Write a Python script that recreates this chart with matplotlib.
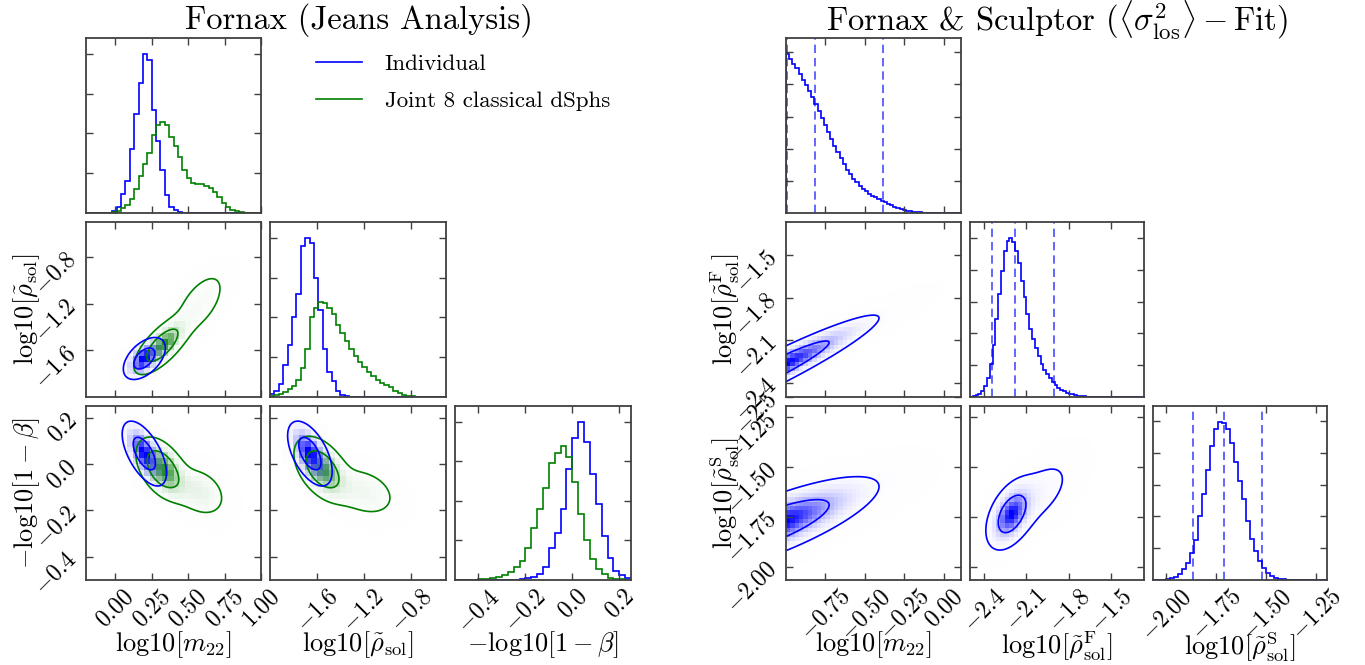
import numpy as np
import matplotlib
matplotlib.use('Agg')
import matplotlib.pyplot as plt
from matplotlib.colors import LinearSegmentedColormap
from matplotlib.lines import Line2D
from matplotlib.ticker import FixedLocator, FixedFormatter, MaxNLocator, NullFormatter

plt.rcParams['mathtext.fontset'] = 'cm'
plt.rcParams['font.family'] = 'serif'
plt.rcParams['font.serif'] = ['DejaVu Serif']

# ----------------------------------------------------------------------
#  Data
# ----------------------------------------------------------------------
ind_color = (0.0, 0.0, 1.0)
joint_color = (0.0, 0.5, 0.0)

# --- left: Fornax Jeans analysis ---
m22_range = (-0.2, 1.0)
rho_range = (-2.0, -0.5)
beta_range = (-0.5, 0.25)

m22_hist_ind = [0, 0, 0, 0, 0, 0, 0.01, 0.04, 0.12, 0.2, 0.4, 0.62, 0.82, 1.0, 0.96, 0.65,
                0.45, 0.27, 0.11, 0.04, 0.02, 0.008, 0.003, 0, 0, 0, 0, 0, 0, 0,
                0, 0, 0, 0, 0, 0, 0, 0, 0, 0]
m22_hist_joint = [0, 0, 0, 0, 0, 0, 0.005, 0.015, 0.03, 0.05, 0.09, 0.15, 0.23, 0.31, 0.38, 0.49,
                  0.55, 0.574, 0.55, 0.48, 0.42, 0.35, 0.27, 0.22, 0.19, 0.18, 0.18, 0.17, 0.16, 0.13,
                  0.10, 0.06, 0.035, 0.02, 0.012, 0.006, 0.003, 0, 0, 0]

rho_hist_ind = [0.02, 0.04, 0.08, 0.2, 0.33, 0.5, 0.65, 0.95, 1.0, 0.97, 0.75, 0.55, 0.3, 0.16,
                0.1, 0.04, 0.015, 0.005, 0, 0, 0, 0, 0, 0, 0, 0, 0, 0, 0, 0,
                0, 0, 0, 0, 0, 0, 0, 0, 0, 0]
rho_hist_joint = [0.005, 0.01, 0.02, 0.03, 0.05, 0.07, 0.11, 0.18, 0.3, 0.5, 0.56, 0.6, 0.59, 0.56,
                  0.52, 0.45, 0.4, 0.35, 0.3, 0.26, 0.22, 0.19, 0.16, 0.13, 0.11, 0.09, 0.075, 0.06,
                  0.04, 0.025, 0.015, 0.008, 0.004, 0.002, 0, 0, 0, 0, 0, 0]

beta_hist_ind = [0, 0, 0, 0, 0, 0, 0, 0, 0, 0, 0.003, 0.005, 0.01, 0.02, 0.04, 0.08, 0.2, 0.3,
                 0.45, 0.7, 0.9, 1.0, 0.87, 0.67, 0.48, 0.28, 0.14, 0.06, 0.03, 0.01]
beta_hist_joint = [0, 0, 0.002, 0.003, 0.004, 0.006, 0.01, 0.02, 0.03, 0.05, 0.08, 0.12, 0.2, 0.33,
                   0.45, 0.58, 0.74, 0.8, 0.85, 0.78, 0.62, 0.42, 0.25, 0.13, 0.07, 0.035, 0.015,
                   0.008, 0.004, 0.002]

# 2D panels: (weight, x mean, y mean, x sd, y sd, correlation)
m22_rho_ind = [(1.0, 0.2, -1.67, 0.072, 0.09, 0.5)]
m22_rho_joint = [(0.72, 0.32, -1.56, 0.085, 0.11, 0.7), (0.28, 0.58, -1.2, 0.11, 0.17, 0.6)]
m22_beta_ind = [(1.0, 0.2, 0.045, 0.076, 0.07, -0.6)]
m22_beta_joint = [(0.72, 0.32, -0.02, 0.085, 0.065, -0.45), (0.28, 0.58, -0.12, 0.11, 0.065, -0.3)]
rho_beta_ind = [(1.0, -1.66, 0.045, 0.095, 0.07, -0.55)]
rho_beta_joint = [(0.72, -1.56, -0.02, 0.11, 0.065, -0.45), (0.28, -1.2, -0.12, 0.17, 0.065, -0.3)]

# --- right: Fornax & Sculptor fit ---
m22r_range = (-1.0, 0.11)
rhoF_range = (-2.5, -1.266)
rhoS_range = (-2.067, -1.195)

m22r_hist = [0.99, 0.96, 0.93, 0.90, 0.865, 0.83, 0.795, 0.76, 0.72, 0.68, 0.635, 0.59, 0.55, 0.505,
             0.46, 0.42, 0.38, 0.34, 0.305, 0.27, 0.24, 0.21, 0.19, 0.17, 0.15, 0.135, 0.12, 0.108,
             0.097, 0.086, 0.076, 0.066, 0.057, 0.048, 0.039, 0.031, 0.024, 0.018, 0.013, 0.01,
             0.008, 0.006, 0.004, 0.003, 0.002, 0.001, 0.0005, 0.0002, 0, 0, 0, 0, 0, 0, 0, 0]
rhoF_hist = [0.0, 0.004, 0.01, 0.022, 0.04, 0.07, 0.12, 0.21, 0.33, 0.49, 0.65, 0.79, 0.92, 0.98,
             1.0, 0.975, 0.92, 0.84, 0.73, 0.63, 0.52, 0.43, 0.365, 0.305, 0.255, 0.21, 0.17, 0.145,
             0.12, 0.095, 0.075, 0.058, 0.046, 0.036, 0.028, 0.021, 0.016, 0.012, 0.009, 0.006,
             0.004, 0.003, 0.002, 0.001, 0, 0, 0, 0, 0, 0, 0, 0, 0, 0, 0, 0, 0, 0, 0, 0, 0, 0]
rhoS_hist = [0.0, 0.001, 0.003, 0.006, 0.013, 0.02, 0.04, 0.07, 0.11, 0.17, 0.25, 0.40, 0.54, 0.69,
             0.84, 0.95, 0.995, 0.99, 0.95, 0.86, 0.74, 0.62, 0.51, 0.37, 0.26, 0.18, 0.12, 0.075,
             0.045, 0.025, 0.013, 0.007, 0.004, 0.002, 0.001, 0, 0, 0, 0, 0, 0, 0, 0]

m22r_quantiles = [-0.993, -0.816, -0.387]
rhoF_quantiles = [-2.342, -2.181, -1.902]
rhoS_quantiles = [-1.867, -1.71, -1.522]

m22_rhoF = [(1.0, -1.1, -2.32, 0.33, 0.19, 0.947)]
m22_rhoS = [(1.0, -1.1, -1.80, 0.33, 0.12, 0.8)]
rhoF_rhoS = [(0.7, -2.21, -1.74, 0.08, 0.08, 0.45), (0.3, -2.02, -1.64, 0.15, 0.11, 0.6)]

# tick positions
m22_ticks = [0.0, 0.25, 0.5, 0.75, 1.0]
rho_ticks = [-1.6, -1.2, -0.8]
beta_ticks = [-0.4, -0.2, 0.0, 0.2]
m22r_ticks = [-0.75, -0.5, -0.25, 0.0]
rhoF_ticks = [-2.4, -2.1, -1.8, -1.5]
rhoF_yticks = [-2.5, -2.4, -2.1, -1.8, -1.5]
rhoS_ticks = [-2.0, -1.75, -1.5, -1.25]

lab_m22 = r'$\mathrm{log10}[m_{22}]$'
lab_rho = r'$\mathrm{log10}[\tilde{\rho}_{\rm sol}]$'
lab_beta = r'$-\mathrm{log10}[1-\beta]$'
lab_rhoF = r'$\mathrm{log10}[\tilde{\rho}^{\rm F}_{\rm sol}]$'
lab_rhoS = r'$\mathrm{log10}[\tilde{\rho}^{\rm S}_{\rm sol}]$'

# ----------------------------------------------------------------------
#  Helpers
# ----------------------------------------------------------------------
W, H = 1365.0, 665.0
fig = plt.figure(figsize=(13.65, 6.65), dpi=100)

left_cols = [(86, 261), (270, 446), (455, 631)]
right_cols = [(786, 961), (970, 1144), (1153, 1327)]
rows = [(38, 213), (222, 397), (406, 580)]

TICKSIZE = 17
LABELSIZE = 19


def add_ax(col, row):
    x0, x1 = col
    y0, y1 = row
    ax = fig.add_axes([x0 / W, 1 - y1 / H, (x1 - x0) / W, (y1 - y0) / H])
    ax.tick_params(direction='in', top=True, right=True, length=5, width=1,
                   labelsize=TICKSIZE, color='0.25')
    for s in ax.spines.values():
        s.set_linewidth(1.3)
        s.set_edgecolor('0.25')
    return ax


def set_ticks(axis, ticks, nd):
    axis.set_major_locator(FixedLocator(ticks))
    axis.set_major_formatter(FixedFormatter([r'$%.*f$' % (nd, t) for t in ticks]))


def mixture(X, Y, comps):
    Z = np.zeros_like(X)
    for w, mx, my, sx, sy, r in comps:
        dx = (X - mx) / sx
        dy = (Y - my) / sy
        q = (dx ** 2 - 2 * r * dx * dy + dy ** 2) / (1 - r ** 2)
        Z += w * np.exp(-0.5 * q) / (2 * np.pi * sx * sy * np.sqrt(1 - r ** 2))
    return Z


def draw_density(ax, xr, yr, comps, color, nbins):
    xe = np.linspace(xr[0], xr[1], nbins + 1)
    ye = np.linspace(yr[0], yr[1], nbins + 1)
    Xc, Yc = np.meshgrid(0.5 * (xe[1:] + xe[:-1]), 0.5 * (ye[1:] + ye[:-1]))
    Zc = mixture(Xc, Yc, comps)
    cmap = LinearSegmentedColormap.from_list('dens', [(1, 1, 1, 0), color])
    ax.pcolormesh(xe, ye, Zc, cmap=cmap, vmin=0, vmax=Zc.max(), shading='flat', edgecolors='none')


def draw_contours(ax, xr, yr, comps, color):
    xf = np.linspace(xr[0], xr[1], 260)
    yf = np.linspace(yr[0], yr[1], 260)
    Xf, Yf = np.meshgrid(xf, yf)
    Zf = mixture(Xf, Yf, comps)
    zs = np.sort(Zf.ravel())[::-1]
    cs = np.cumsum(zs) / zs.sum()
    levels = sorted([zs[np.searchsorted(cs, f)] for f in (0.865, 0.393)])
    ax.contour(xf, yf, Zf, levels, colors=[color], linewidths=1.2)


def draw_hist(ax, xr, series, colors):
    top = 0
    for vals, c in zip(series, colors):
        edges = np.linspace(xr[0], xr[1], len(vals) + 1)
        ax.stairs(vals, edges, color=c, lw=1.2)
        top = max(top, max(vals))
    ax.set_ylim(0, 1.1 * top)
    ax.set_xlim(xr)
    ax.yaxis.set_major_locator(MaxNLocator(5, prune='lower'))
    ax.yaxis.set_major_formatter(NullFormatter())


# ----------------------------------------------------------------------
#  Left corner plot
# ----------------------------------------------------------------------
ranges_l = [m22_range, rho_range, beta_range]
ticks_l = [(m22_ticks, 2), (rho_ticks, 1), (beta_ticks, 1)]
labels_l = [lab_m22, lab_rho, lab_beta]
hists_l = [(m22_hist_ind, m22_hist_joint), (rho_hist_ind, rho_hist_joint), (beta_hist_ind, beta_hist_joint)]
pairs_l = {(1, 0): (m22_rho_ind, m22_rho_joint),
           (2, 0): (m22_beta_ind, m22_beta_joint),
           (2, 1): (rho_beta_ind, rho_beta_joint)}

for i in range(3):
    for j in range(i + 1):
        ax = add_ax(left_cols[j], rows[i])
        if i == j:
            draw_hist(ax, ranges_l[i], hists_l[i], [ind_color, joint_color])
        else:
            ind, joint = pairs_l[(i, j)]
            draw_density(ax, ranges_l[j], ranges_l[i], joint, joint_color, 30)
            draw_density(ax, ranges_l[j], ranges_l[i], ind, ind_color, 30)
            draw_contours(ax, ranges_l[j], ranges_l[i], joint, joint_color)
            draw_contours(ax, ranges_l[j], ranges_l[i], ind, ind_color)
            ax.set_xlim(ranges_l[j])
            ax.set_ylim(ranges_l[i])
            set_ticks(ax.yaxis, *ticks_l[i])
            if j == 0:
                ax.set_ylabel(labels_l[i], fontsize=LABELSIZE)
                ax.yaxis.set_label_coords(-0.25, 0.5)
                ax.tick_params(axis='y', labelrotation=45)
            else:
                ax.yaxis.set_major_formatter(NullFormatter())
        set_ticks(ax.xaxis, *ticks_l[j])
        if i == 2:
            ax.set_xlabel(labels_l[j], fontsize=LABELSIZE)
            ax.xaxis.set_label_coords(0.5, -0.285)
            ax.tick_params(axis='x', labelrotation=45)
        else:
            ax.xaxis.set_major_formatter(NullFormatter())

fig.text((left_cols[0][0] + left_cols[2][1]) / 2 / W, 1 - 20 / H,
         'Fornax (Jeans Analysis)', fontsize=23.5, ha='center', va='center', family='cmr10')

handles = [Line2D([], [], color=ind_color, lw=1.2), Line2D([], [], color=joint_color, lw=1.2)]
fig.legend(handles, ['Individual', 'Joint 8 classical dSphs'],
           loc='upper left', bbox_to_anchor=(316 / W, 1 - 54 / H), frameon=False,
           prop={'family': 'cmr10', 'size': 16.5}, handlelength=2.0, handletextpad=1.0,
           labelspacing=0.75, borderaxespad=0, borderpad=0)

# ----------------------------------------------------------------------
#  Right corner plot
# ----------------------------------------------------------------------
ranges_r = [m22r_range, rhoF_range, rhoS_range]
xticks_r = [(m22r_ticks, 2), (rhoF_ticks, 1), (rhoS_ticks, 2)]
yticks_r = [None, (rhoF_yticks, 1), (rhoS_ticks, 2)]
labels_r = [lab_m22, lab_rhoF, lab_rhoS]
hists_r = [m22r_hist, rhoF_hist, rhoS_hist]
quant_r = [m22r_quantiles, rhoF_quantiles, rhoS_quantiles]
hist_edges_r = [(-1.0, 0.12), (-2.5, -1.26), (-2.06, -1.2)]
pairs_r = {(1, 0): m22_rhoF, (2, 0): m22_rhoS, (2, 1): rhoF_rhoS}

for i in range(3):
    for j in range(i + 1):
        ax = add_ax(right_cols[j], rows[i])
        if i == j:
            edges = np.linspace(hist_edges_r[i][0], hist_edges_r[i][1], len(hists_r[i]) + 1)
            ax.stairs(hists_r[i], edges, color=ind_color, lw=1.2)
            for q in quant_r[i]:
                ax.axvline(q, color=ind_color, ls='--', lw=1.2, alpha=0.7, dashes=(5, 3))
            ax.set_ylim(0, 1.1 * max(hists_r[i]))
            ax.set_xlim(ranges_r[i])
            ax.yaxis.set_major_locator(MaxNLocator(7, prune='lower'))
            ax.yaxis.set_major_formatter(NullFormatter())
        else:
            comps = pairs_r[(i, j)]
            draw_density(ax, ranges_r[j], ranges_r[i], comps, ind_color, 40)
            draw_contours(ax, ranges_r[j], ranges_r[i], comps, ind_color)
            ax.set_xlim(ranges_r[j])
            ax.set_ylim(ranges_r[i])
            set_ticks(ax.yaxis, *yticks_r[i])
            if j == 0:
                ax.set_ylabel(labels_r[i], fontsize=LABELSIZE)
                ax.yaxis.set_label_coords(-0.25, 0.5)
                ax.tick_params(axis='y', labelrotation=45)
            else:
                ax.yaxis.set_major_formatter(NullFormatter())
        set_ticks(ax.xaxis, *xticks_r[j])
        if i == 2:
            ax.set_xlabel(labels_r[j], fontsize=LABELSIZE)
            ax.xaxis.set_label_coords(0.5, -0.285)
            ax.tick_params(axis='x', labelrotation=45)
        else:
            ax.xaxis.set_major_formatter(NullFormatter())

fig.text((right_cols[0][0] + right_cols[2][1]) / 2 / W, 1 - 20 / H,
         r'Fornax & Sculptor $(\langle\sigma_{\rm los}^{2}\rangle - \mathrm{Fit})$',
         fontsize=23.5, ha='center', va='center', family='cmr10')

fig.savefig('out.png', dpi=100)
